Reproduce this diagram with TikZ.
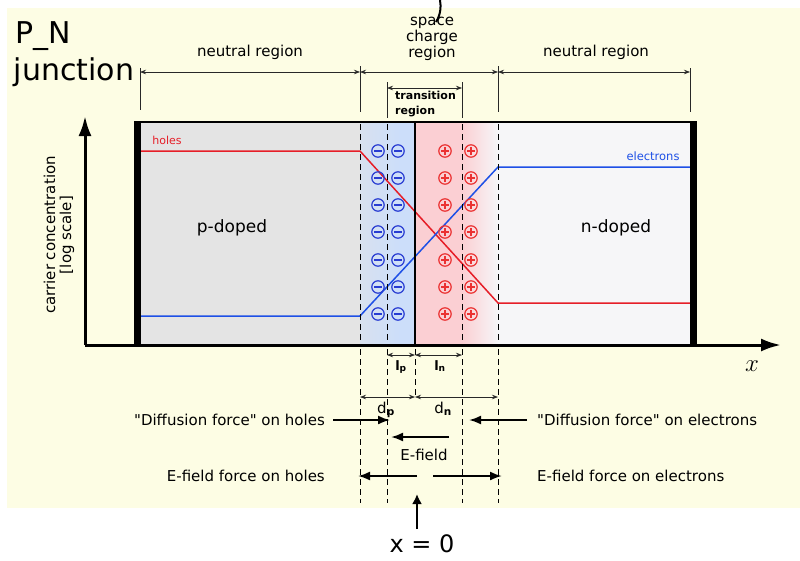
\documentclass[tikz,border=0pt]{standalone}
\usepackage{fontspec}
\setmainfont{DejaVu Sans}[Ligatures=TeXOff]
\usetikzlibrary{arrows.meta}
\definecolor{bgy}{RGB}{253,253,228}
\definecolor{pgray}{RGB}{228,228,228}
\definecolor{ngray}{RGB}{246,246,248}
\definecolor{sblue}{RGB}{204,222,250}
\definecolor{sred}{RGB}{251,207,211}
\definecolor{hred}{RGB}{230,30,40}
\definecolor{eblue}{RGB}{30,80,230}
\definecolor{mblue}{RGB}{40,60,210}
\definecolor{pred}{RGB}{235,50,50}
\definecolor{dimc}{RGB}{40,40,40}
\begin{document}
\begin{tikzpicture}[x=1pt,y=-1pt,
  txt/.style={inner sep=0pt, font=\fontsize{15}{16}\selectfont},
  dim/.style={dimc, line width=0.7pt, {Stealth[length=6pt,width=4.5pt]}-{Stealth[length=6pt,width=4.5pt]}},
  tickln/.style={dimc, line width=0.8pt},
  dashln/.style={line width=0.8pt, dash pattern=on 6pt off 4pt},
  force/.style={line width=2pt, -{Latex[length=12pt,width=9pt]}},
  chg/.style={line width=1.2pt},
  hand/.style={inner sep=0pt, font=\fontsize{30}{32}\selectfont}
]
\useasboundingbox (0,0) rectangle (800,560);
% background
\fill[bgy] (7,8) rectangle (800,508);
% regions
\fill[pgray] (140,122) rectangle (360,344);
\shade[left color=pgray!50!sblue, right color=sblue] (360,122) rectangle (400,344);
\fill[sblue] (399,122) rectangle (415,344);
\fill[sred] (415,122) rectangle (463,344);
\shade[left color=sred, right color=ngray] (462,122) rectangle (498,344);
\fill[ngray] (498,122) rectangle (690,344);
% carrier curves
\draw[hred, line width=1.5pt] (141,151) -- (360,151) -- (498,303) -- (690,303);
\draw[eblue, line width=1.5pt] (141,316) -- (360,316) -- (498,167) -- (690,167);
% charges
\foreach \y in {151,178,205,232,260,287,314}{
  \foreach \x in {378,398}{
    \draw[mblue,chg] (\x,\y) circle (6.2pt);
    \draw[mblue,chg] (\x-4,\y) -- (\x+4,\y);
  }
  \foreach \x in {445,471}{
    \draw[pred,chg] (\x,\y) circle (6.2pt);
    \draw[pred,chg] (\x-4,\y) -- (\x+4,\y) (\x,\y-4) -- (\x,\y+4);
  }
}
% dashed lines in box
\foreach \x in {360,387,462,498}{\draw[dashln] (\x,124) -- (\x,344);}
% junction
\draw[line width=1.3pt] (415,122) -- (415,344);
% box
\draw[line width=2.5pt] (137,122) -- (694,122);
\fill (134,121) rectangle (141,345);
\fill (690,121) rectangle (697,345);
% axes
\coordinate (o) at (85,345);
\coordinate (ytip) at (85,116);
\coordinate (xtip) at (781,345);
\draw[line width=3pt, -{Latex[length=20pt,width=13pt]}] (o) -- (ytip);
\draw[line width=3pt, -{Latex[length=20pt,width=13pt]}] (o) -- (xtip);
\node (xl) at (752,366) {\fontsize{23}{24}\selectfont$x$};
\node[txt, rotate=90, align=center] (yl) at (59,235) {carrier concentration\\{[log scale]}};
% labels in box
\node[inner sep=0pt, font=\fontsize{11}{12}\selectfont, text=hred] (hl) at (167,140) {holes};
\node[inner sep=0pt, font=\fontsize{11.5}{12}\selectfont, text=eblue] (el) at (653,156) {electrons};
\node[inner sep=0pt, font=\fontsize{17}{18}\selectfont] (pd) at (232,228) {p-doped};
\node[inner sep=0pt, font=\fontsize{17}{18}\selectfont] (nd) at (616,228) {n-doped};
% top dimensions
\draw[tickln] (140,68) -- (140,110);
\draw[tickln] (360,66) -- (360,112);
\draw[tickln] (498,66) -- (498,112);
\draw[tickln] (690,68) -- (690,112);
\draw[tickln] (387,82) -- (387,118);
\draw[tickln] (462,82) -- (462,118);
\coordinate (t1) at (140,72);
\coordinate (t2) at (360,72);
\coordinate (t3) at (498,72);
\coordinate (t4) at (690,72);
\coordinate (tr1) at (387,88);
\coordinate (tr2) at (462,88);
\draw[dim] (t1) -- (t2);
\draw[dim] (t2) -- (t3);
\draw[dim] (t3) -- (t4);
\draw[dim] (tr1) -- (tr2);
\node[txt] (nr1) at (250,52) {neutral region};
\node[txt] (nr2) at (596,52) {neutral region};
\node[txt, align=center] (scr) at (432,39) {space\\charge\\region};
\node[inner sep=0pt, anchor=west, align=left, font=\bfseries\fontsize{11}{15}\selectfont] (trn) at (395,104) {transition\\region};
% dashed lines below box
\foreach \x in {360,387,462,498}{\draw[dashln] (\x,349) -- (\x,503);}
\draw[dashln] (415,349) -- (415,398);
% l and d dimensions
\coordinate (lp1) at (387,355);
\coordinate (lj) at (415,355);
\coordinate (ln2) at (462,355);
\coordinate (dp1) at (360,397);
\coordinate (dj) at (415,397);
\coordinate (dn2) at (498,397);
\draw[dim] (lp1) -- (lj);
\draw[dim] (lj) -- (ln2);
\draw[dim] (dp1) -- (dj);
\draw[dim] (dj) -- (dn2);
\node[inner sep=0pt, font=\bfseries\fontsize{13}{14}\selectfont] (lpl) at (401,367) {l\textsubscript{p}};
\node[inner sep=0pt, font=\bfseries\fontsize{13}{14}\selectfont] (lnl) at (440,366) {l\textsubscript{n}};
\node[txt] (dpl) at (386,410) {d\textsubscript{\bfseries p}};
\node[txt] (dnl) at (443,409) {d\textsubscript{\bfseries n}};
% forces
\node[txt, anchor=east] (dfh) at (325,420) {"Diffusion force" on holes};
\node[txt, anchor=west] (dfe) at (537,420) {"Diffusion force" on electrons};
\node[txt, anchor=east] (efh) at (325,476) {E-field force on holes};
\node[txt, anchor=west] (efe) at (537,476) {E-field force on electrons};
\node[txt] (ef) at (424,455) {E-field};
\coordinate (a1s) at (333,420); \coordinate (a1e) at (390,420);
\coordinate (a2s) at (527,420); \coordinate (a2e) at (469,420);
\coordinate (a3s) at (449,437); \coordinate (a3e) at (391,437);
\coordinate (a4s) at (417,476); \coordinate (a4e) at (358,476);
\coordinate (a5s) at (433,476); \coordinate (a5e) at (502,476);
\draw[force] (a1s) -- (a1e);
\draw[force] (a2s) -- (a2e);
\draw[force] (a3s) -- (a3e);
\draw[force] (a4s) -- (a4e);
\draw[force] (a5s) -- (a5e);
% handwritten annotations
\node[hand] (pn) at (43,36) {P\_N};
\node[hand] (jn) at (74,72) {junction};
\node[inner sep=0pt, font=\fontsize{24}{26}\selectfont] (x0) at (422,544) {x = 0};
\coordinate (x0a) at (417,529);
\coordinate (x0b) at (417,494);
\draw[line width=2pt, -{Latex[length=10pt,width=10pt]}] (x0a) -- (x0b);
\coordinate (sq1) at (436,22);
\coordinate (sq2) at (440,0);
\draw[line width=2pt] (sq1) .. controls (441,14) and (441,6) .. (sq2);
\end{tikzpicture}
\end{document}
